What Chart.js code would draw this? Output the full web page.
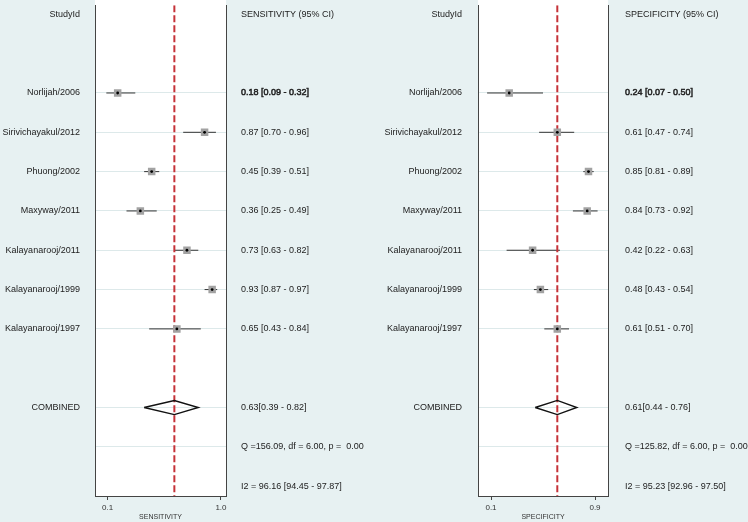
<!DOCTYPE html>
<html>
<head>
<meta charset="utf-8">
<script src="https://cdn.jsdelivr.net/npm/chart.js@4.4.1/dist/chart.umd.min.js"></script>
<style>
  html, body { margin: 0; padding: 0; background: #e7f1f2; }
  #wrap { position: relative; width: 748px; height: 522px; overflow: hidden; }
  canvas { position: absolute; top: 0; }
</style>
</head>
<body>
<div id="wrap">
  <canvas id="sens" width="374" height="522" style="left:0"></canvas>
  <canvas id="spec" width="374" height="522" style="left:374px"></canvas>
</div>
<script>
// ---------------- data ----------------
const studies = ['Norlijah/2006', 'Sirivichayakul/2012', 'Phuong/2002', 'Maxyway/2011',
                 'Kalayanarooj/2011', 'Kalayanarooj/1999', 'Kalayanarooj/1997'];

const sensEst = [0.18, 0.87, 0.45, 0.36, 0.73, 0.93, 0.65];
const sensLo  = [0.09, 0.70, 0.39, 0.25, 0.63, 0.87, 0.43];
const sensHi  = [0.32, 0.96, 0.51, 0.49, 0.82, 0.97, 0.84];

const specEst = [0.24, 0.61, 0.85, 0.84, 0.42, 0.48, 0.61];
const specLo  = [0.07, 0.47, 0.81, 0.73, 0.22, 0.43, 0.51];
const specHi  = [0.50, 0.74, 0.89, 0.92, 0.63, 0.54, 0.70];

const sensPooled = [0.63, 0.39, 0.82];   // estimate, lower, upper
const specPooled = [0.61, 0.44, 0.76];

const sensQ  = ['156.09', '6.00', '0.00'];          // Q, df, p
const specQ  = ['125.82', '6.00', '0.00'];
const sensI2 = ['96.16', '94.45', '97.87'];          // I2, lower, upper
const specI2 = ['95.23', '92.96', '97.50'];

const xTickValuesSens = [0.1, 1.0];
const xTickLabelsSens = ['0.1', '1.0'];
const xTickValuesSpec = [0.1, 0.9];
const xTickLabelsSpec = ['0.1', '0.9'];

// ---------------- styling ----------------
const TEAL = '#e7f1f2';
const FONT = "'Liberation Sans', Arial, Helvetica, sans-serif";
const TEXT = '#222';

const bgPlugin = {
  id: 'bg',
  beforeDraw(chart) {
    const { ctx, chartArea: a, width, height } = chart;
    ctx.save();
    ctx.fillStyle = TEAL;
    ctx.fillRect(0, 0, width, height);
    ctx.fillStyle = '#ffffff';
    ctx.fillRect(a.left, 0, a.right - a.left, a.bottom);
    ctx.restore();
  }
};

function ciText(e, l, h) { return e.toFixed(2) + ' [' + l.toFixed(2) + ' - ' + h.toFixed(2) + ']'; }

function makeForest(id, cfg) {
  const { est, lo, hi, pooled, q, i2, header, xTitle, xVals, xLabels,
          xMin, xMax, leftW, leftPad, rightW, rightPad } = cfg;
  const n = est.length;
  const studyRow = i => i + 2;
  const combRow = n + 3, qRow = n + 4, i2Row = n + 5;
  const yMin = -0.23, yMax = i2Row + 0.25;

  const leftLabels = { 0: 'StudyId' };
  const rightLabels = { 0: header };
  studies.forEach((s, i) => {
    leftLabels[studyRow(i)] = s;
    rightLabels[studyRow(i)] = ciText(est[i], lo[i], hi[i]);
  });
  leftLabels[combRow] = 'COMBINED';
  rightLabels[combRow] = pooled[0].toFixed(2) + '[' + pooled[1].toFixed(2) + ' - ' + pooled[2].toFixed(2) + ']';
  rightLabels[qRow] = 'Q =' + q[0] + ', df = ' + q[1] + ', p =  ' + q[2];
  rightLabels[i2Row] = 'I2 = ' + i2[0] + ' [' + i2[1] + ' - ' + i2[2] + ']';
  const gridRows = studies.map((s, i) => studyRow(i)).concat([combRow, qRow]);

  const datasets = [];
  // centre dots
  datasets.push({
    data: est.map((v, i) => ({ x: v, y: studyRow(i) })),
    pointStyle: 'circle', pointRadius: 1.4, backgroundColor: '#000', borderWidth: 0, order: 0
  });
  // grey squares
  datasets.push({
    data: est.map((v, i) => ({ x: v, y: studyRow(i) })),
    pointStyle: 'rect', pointRadius: 5.3, backgroundColor: '#a2a2a2', borderWidth: 0, order: 1
  });
  // pooled diamond
  const h = 0.18;
  datasets.push({
    data: [{ x: pooled[1], y: combRow }, { x: pooled[0], y: combRow - h }, { x: pooled[2], y: combRow },
           { x: pooled[0], y: combRow + h }, { x: pooled[1], y: combRow }],
    showLine: true, borderColor: '#111', borderWidth: 1.4, pointRadius: 0, fill: false, order: 2
  });
  // pooled reference line
  datasets.push({
    data: [{ x: pooled[0], y: yMin }, { x: pooled[0], y: yMax }],
    showLine: true, borderColor: '#c53238', borderWidth: 2, borderDash: [7, 3], pointRadius: 0, order: 3
  });
  // CI lines
  est.forEach((v, i) => {
    datasets.push({
      data: [{ x: lo[i], y: studyRow(i) }, { x: hi[i], y: studyRow(i) }],
      showLine: true, borderColor: '#333', borderWidth: 1, pointRadius: 0, order: 4
    });
  });

  const yCommon = { type: 'linear', min: yMin, max: yMax, reverse: true };

  return new Chart(document.getElementById(id), {
    type: 'scatter',
    data: { datasets },
    plugins: [bgPlugin],
    options: {
      responsive: false, animation: false, devicePixelRatio: 1, events: [],
      layout: { padding: { top: 3, left: 0, right: 0, bottom: 0 } },
      plugins: { legend: { display: false }, tooltip: { enabled: false } },
      scales: {
        x: {
          type: 'linear', position: 'bottom', min: xMin, max: xMax,
          afterBuildTicks: ax => { ax.ticks = xVals.map(v => ({ value: v })); },
          afterFit: ax => { ax.height = 26; ax.paddingLeft = 0; ax.paddingRight = 0; },
          ticks: { autoSkip: false, padding: 3, color: '#333', font: { family: FONT, size: 8 },
                   callback: (v, i) => xLabels[i] },
          grid: { drawOnChartArea: false, drawTicks: true, tickLength: 4, color: '#444' },
          border: { display: true, color: '#444', width: 1 },
          title: { display: true, text: xTitle, color: '#333', font: { family: FONT, size: 7 },
                   padding: { top: 0, bottom: 1 } }
        },
        y: Object.assign({}, yCommon, {
          position: 'left',
          afterBuildTicks: ax => { ax.ticks = Object.keys(leftLabels).map(k => ({ value: +k })); },
          afterFit: ax => { ax.width = leftW; ax.paddingTop = 0; ax.paddingBottom = 0; },
          ticks: { autoSkip: false, padding: leftPad, color: TEXT, font: { family: FONT, size: 9 },
                   callback: v => leftLabels[v] },
          grid: { display: false, drawTicks: false },
          border: { display: true, color: '#444', width: 1 }
        }),
        y2: Object.assign({}, yCommon, {
          position: 'right',
          afterBuildTicks: ax => { ax.ticks = Object.keys(rightLabels).map(k => ({ value: +k })); },
          afterFit: ax => { ax.width = rightW; ax.paddingTop = 0; ax.paddingBottom = 0; },
          ticks: { autoSkip: false, padding: rightPad, color: TEXT, font: { family: FONT, size: 9 },
                   textStrokeColor: TEXT,
                   textStrokeWidth: c => (c.tick && c.tick.value === studyRow(0)) ? 0.5 : 0,
                   callback: v => rightLabels[v] },
          grid: { display: true, drawTicks: false, lineWidth: 1,
                  color: c => (c.tick && gridRows.includes(c.tick.value)) ? '#dde9ea' : 'rgba(0,0,0,0)' },
          border: { display: true, color: '#444', width: 1 }
        })
      }
    }
  });
}

makeForest('sens', {
  est: sensEst, lo: sensLo, hi: sensHi, pooled: sensPooled, q: sensQ, i2: sensI2,
  header: 'SENSITIVITY (95% CI)', xTitle: 'SENSITIVITY',
  xVals: xTickValuesSens, xLabels: xTickLabelsSens, xMin: 0, xMax: 1.04,
  leftW: 95, leftPad: 15, rightW: 148, rightPad: 15
});
makeForest('spec', {
  est: specEst, lo: specLo, hi: specHi, pooled: specPooled, q: specQ, i2: specI2,
  header: 'SPECIFICITY (95% CI)', xTitle: 'SPECIFICITY',
  xVals: xTickValuesSpec, xLabels: xTickLabelsSpec, xMin: 0, xMax: 1.0,
  leftW: 104, leftPad: 16, rightW: 140, rightPad: 17
});
</script>
</body>
</html>
